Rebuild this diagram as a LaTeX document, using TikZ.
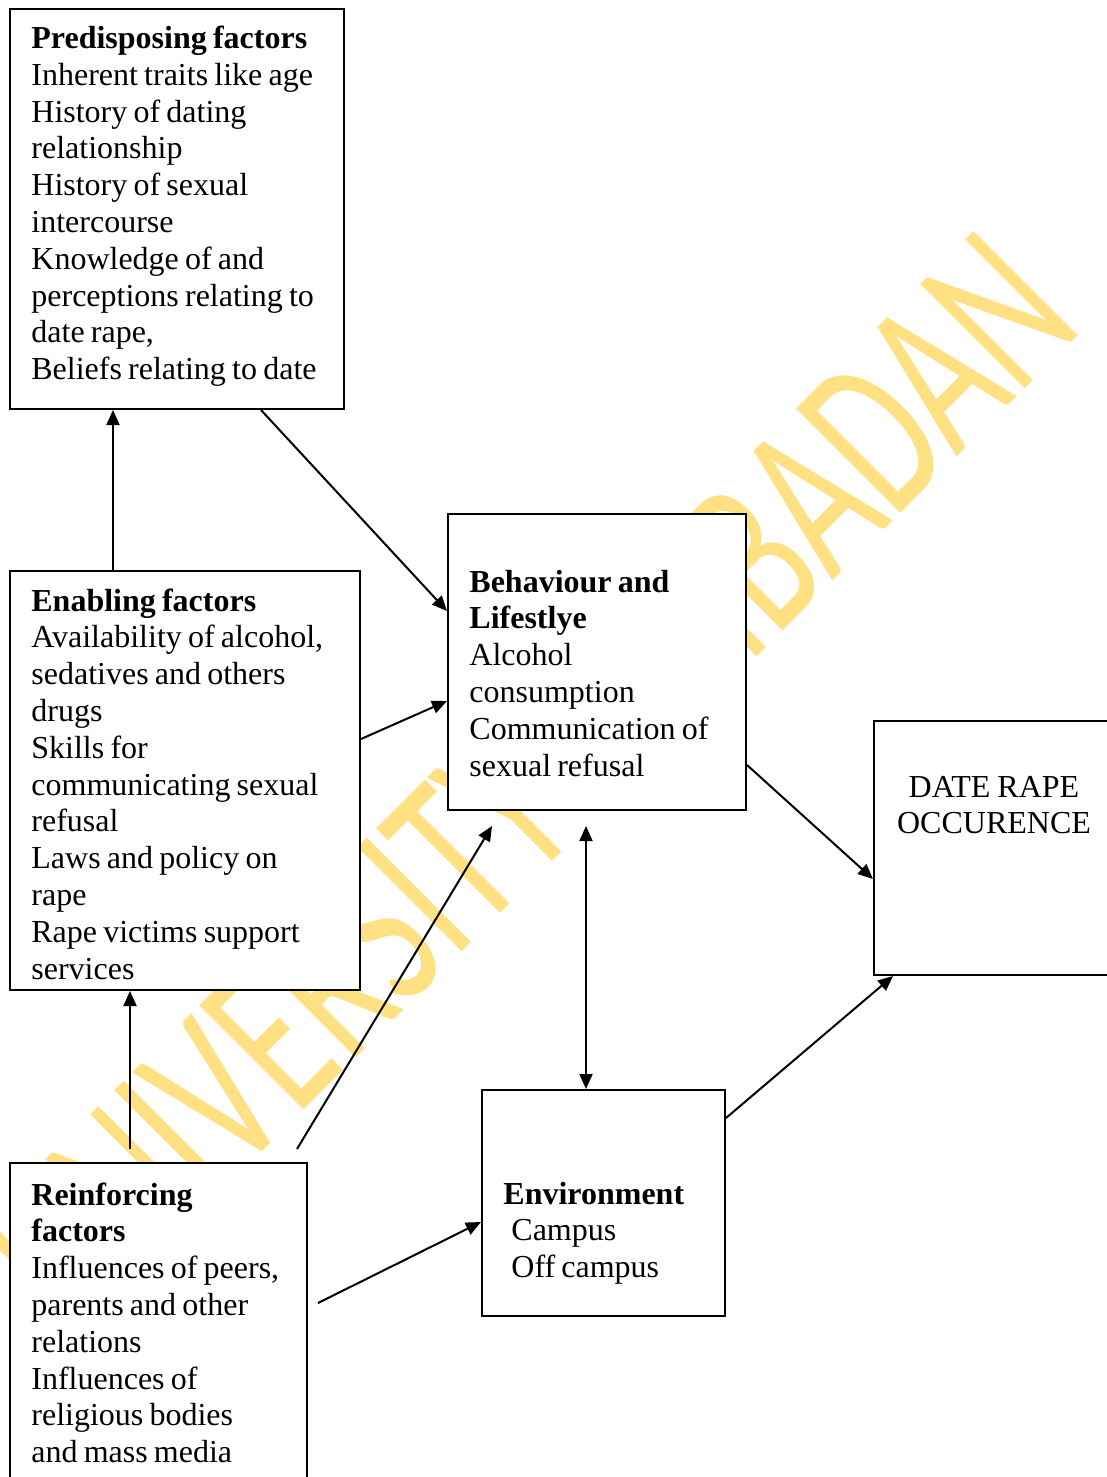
\documentclass[tikz,border=0pt]{standalone}
\usepackage{fontspec}
\setmainfont{Liberation Serif}
\newfontfamily\wmfont{Carlito}
\usetikzlibrary{arrows.meta,calc,fit}
\definecolor{wmyellow}{RGB}{255,224,130}
\newcommand\narrowspaces{\spaceskip=3.1pt plus 1pt minus 0.5pt\relax}
\tikzset{
  box/.style={draw, line width=1pt, fill=white, inner sep=0pt},
  txt/.style={inner sep=0pt, align=left, anchor=base west,
    font=\fontsize{16pt}{18.4pt}\selectfont,
    execute at begin node=\narrowspaces},
  arr/.style={line width=1pt, -{Triangle[length=7.5pt,width=6.5pt]}},
  darr/.style={line width=1pt, {Triangle[length=7.5pt,width=6.5pt]}-{Triangle[length=7.5pt,width=6.5pt]}},
  wm/.style={inner sep=0pt, text=wmyellow, font=\wmfont\fontsize{115pt}{120pt}\selectfont}
}
\begin{document}
\begin{tikzpicture}[x=0.5pt,y=-0.5pt]
\useasboundingbox (0,0) rectangle (1107,1477);
\clip (0,0) rectangle (1107,1477);
% watermark
\node[wm, rotate=45, xscale=0.65, anchor=base west] (wmark) at (74,1340) {UNIVERSITY OF IBADAN};
% boxes
\node[box, fit={(10,9) (344,409)}] (pre) {};
\node[box, fit={(10,571) (360,990)}] (ena) {};
\node[box, fit={(448,514) (746,810)}] (beh) {};
\node[box, fit={(874,721) (1114,975)}] (date) {};
\node[box, fit={(482,1090) (725,1316)}] (env) {};
\node[box, fit={(10,1163) (307,1500)}] (rei) {};
% texts
\node[txt, text width=160pt] (pret) at (31,48.5) {\textbf{Predisposing factors}\\Inherent traits like age\\History of dating\\relationship\\History of sexual\\intercourse\\Knowledge of and\\perceptions relating to\\date rape,\\Beliefs relating to date};
\node[txt, text width=160pt] (enat) at (31,611) {\textbf{Enabling factors}\\Availability of alcohol,\\sedatives and others\\drugs\\Skills for\\communicating sexual\\refusal\\Laws and policy on\\rape\\Rape victims support\\services};
\node[txt, text width=140pt] (beht) at (469,592) {\textbf{Behaviour and}\\\textbf{Lifestlye}\\Alcohol\\consumption\\Communication of\\sexual refusal};
\node[txt, text width=110pt, align=center, anchor=base] (datet) at (994,797) {DATE RAPE\\OCCURENCE};
\node[txt, text width=110pt] (envt) at (503,1204) {\textbf{Environment}\\\hspace*{4pt}Campus\\\hspace*{4pt}Off campus};
\node[txt, text width=140pt] (reit) at (31,1205) {\textbf{Reinforcing}\\\textbf{factors}\\Influences of peers,\\parents and other\\relations\\Influences of\\religious bodies\\and mass media};
% connectors
\draw[arr] ($(ena.north west)+(104,0)$) -- ($(pre.south west)+(104,0)$);
\draw[arr] ($(pre.south west)+(252,0)$) -- ($(beh.north west)+(0,98)$);
\draw[arr] ($(ena.north east)+(0,169)$) -- ($(beh.north west)+(0,188)$);
\draw[arr] ($(rei.north west)+(121,-13)$) -- ($(ena.south west)+(121,0)$);
\draw[arr] ($(rei.north west)+(288,-13)$) -- ($(beh.south west)+(45,15)$);
\draw[arr] ($(rei.north east)+(10,141)$) -- ($(env.north west)+(0,133)$);
\draw[darr] ($(beh.south west)+(139,15)$) -- ($(env.north west)+(105,0)$);
\draw[arr] ($(beh.north east)+(0,252)$) -- ($(date.north west)+(0,159)$);
\draw[arr] ($(env.north east)+(0,29)$) -- ($(date.south west)+(20,0)$);
\end{tikzpicture}
\end{document}
